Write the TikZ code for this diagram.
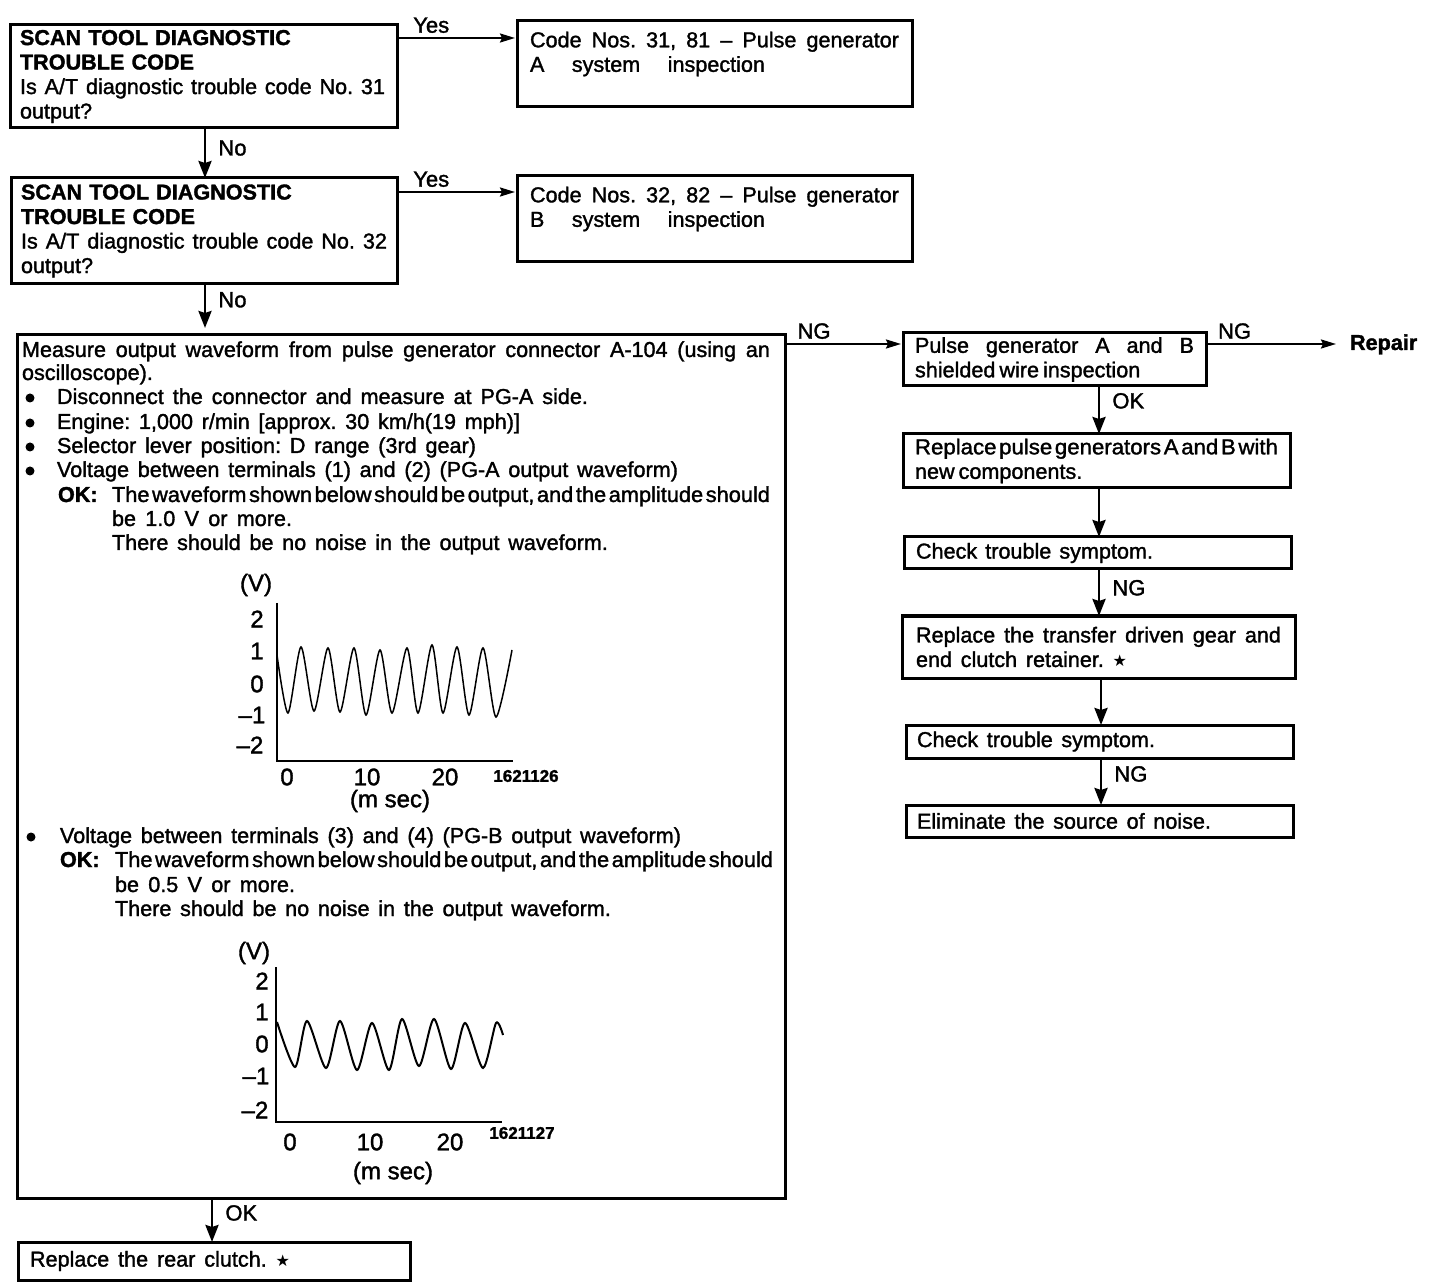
\documentclass[tikz,border=0pt]{standalone}
\usepackage{fontspec}
\usepackage{tikz}
\setmainfont{Liberation Sans}[FakeBold=1.5]
\newfontfamily\starfont{DejaVu Sans}
\usetikzlibrary{positioning, arrows.meta}

% line set to a given width: spaces stretch
\newcommand{\fitline}[2]{\makebox[#1][s]{\frenchspacing\spaceskip=0pt\xspaceskip=0pt #2}}
% line squeezed to a given width, almost no spaces
\newcommand{\squeezeline}[2]{\resizebox{#1}{\height}{\fontsize{10.8}{12.25}\selectfont\spaceskip=.12em\xspaceskip=.12em #2}}
\newcommand{\wstar}{{\starfont\footnotesize\char"2605}}

\tikzset{
    textsize/.style={font=\fontsize{10.8}{12.25}\selectfont},
    box/.style={draw, line width=1.5pt, anchor=north west, inner xsep=6pt, inner ysep=0pt, outer sep=0pt, align=left, textsize},
    txt/.style={anchor=base west, inner sep=0pt, outer sep=0pt, textsize},
    dot/.style={circle, fill, inner sep=0pt, outer sep=0pt, minimum size=4.5pt},
    tick/.style={anchor=center, inner sep=0pt, outer sep=0pt, font=\fontsize{12}{14}\selectfont},
    code/.style={anchor=center, inner sep=0pt, outer sep=0pt, font=\fontsize{8.5}{9}\bfseries\selectfont},
    edgelabel/.style={inner sep=6pt, font=\fontsize{11}{13}\selectfont},
    flowv/.style={line width=1.4pt, -{Stealth[length=8.5pt,width=6.5pt,inset=1pt]}},
    flowh/.style={line width=1.1pt, -{Stealth[length=7.5pt,width=4.5pt,inset=1pt]}},
    axis/.style={line width=1.1pt},
    wave/.style={line width=.75pt, smooth, tension=.45}
}

\begin{document}
\begin{tikzpicture}[x=.5pt, y=-.5pt]
    \useasboundingbox (0,0) rectangle (1440,1288);

    % left column
    \node[box, inner xsep=5pt, text width=183.5pt, minimum height=51.5pt] (q1) at (10,25) {\textbf{SCAN TOOL DIAGNOSTIC}\\\textbf{TROUBLE CODE}\\\fitline{182.5pt}{Is A/T diagnostic trouble code No. 31}\\output?};
    \node[box, inner xsep=5pt, text width=183pt, minimum height=53pt] (q2) at (11,178) {\textbf{SCAN TOOL DIAGNOSTIC}\\\textbf{TROUBLE CODE}\\\fitline{183pt}{Is A/T diagnostic trouble code No. 32}\\output?};
    \node[box, inner xsep=6.5pt, text width=184.5pt, minimum height=43pt] (c1) at (517,21) {\fitline{184.5pt}{Code Nos. 31, 81 -- Pulse generator}\\\fitline{117.5pt}{A system inspection}\\\mbox{}};
    \node[box, inner xsep=6.5pt, text width=184.5pt, minimum height=43pt] (c2) at (517,176) {\fitline{184.5pt}{Code Nos. 32, 82 -- Pulse generator}\\\fitline{117.5pt}{B system inspection}\\\mbox{}};
    \node[box, minimum width=384pt, minimum height=431.5pt] (m) at (17,335) {};
    \node[box, text width=184pt, minimum height=19pt] (rc) at (18,1242) {\fitline{130pt}{Replace the rear clutch. \wstar}};

    % right column
    \node[box, text width=139.5pt, minimum height=26.5pt] (p) at (903,333) {\fitline{139.5pt}{Pulse generator A and B}\\\fitline{112pt}{shielded wire inspection}};
    \node[box, text width=181.5pt, minimum height=27pt] (r) at (903,434) {\squeezeline{181.5pt}{Replace pulse generators A and B with}\\\fitline{80pt}{new components.}};
    \node[box, text width=181.5pt, minimum height=16pt] (s1) at (904,537) {\fitline{118.5pt}{Check trouble symptom.}};
    \node[box, inner xsep=7pt, text width=182.5pt, minimum height=31pt] (g) at (902,616) {\fitline{182.5pt}{Replace the transfer driven gear and}\\\fitline{105.5pt}{end clutch retainer. \wstar}};
    \node[box, inner xsep=5.5pt, text width=182.5pt, minimum height=16.5pt] (s2) at (906,725) {\fitline{119pt}{Check trouble symptom.}};
    \node[box, inner xsep=5.5pt, text width=182.5pt, minimum height=16pt] (e) at (906,805) {\fitline{147pt}{Eliminate the source of noise.}};
    \node[txt, font=\fontsize{10.8}{12.25}\bfseries\selectfont] (rep) at (1350,350) {Repair};

    % text of the large box
    \node[txt] (m1) at (22,357) {\fitline{374pt}{Measure output waveform from pulse generator connector A-104 (using an}};
    \node[txt] (m2) at (22,380) {oscilloscope).};
    \node[dot] (b1) at (30,398) {};
    \node[txt] (i1) at (57,404) {\fitline{265.5pt}{Disconnect the connector and measure at PG-A side.}};
    \node[dot] (b2) at (30,423) {};
    \node[txt] (i2) at (57,429) {\fitline{231.5pt}{Engine: 1,000 r/min [approx. 30 km/h(19 mph)]}};
    \node[dot] (b3) at (30,447) {};
    \node[txt] (i3) at (57,453) {\fitline{209.5pt}{Selector lever position: D range (3rd gear)}};
    \node[dot] (b4) at (30,471) {};
    \node[txt] (i4) at (57,477) {\fitline{310.5pt}{Voltage between terminals (1) and (2) (PG-A output waveform)}};
    \node[txt] (ok1) at (58,502) {\textbf{OK:}};
    \node[txt] (a1) at (112,502) {\squeezeline{329pt}{The waveform shown below should be output, and the amplitude should}};
    \node[txt] (a2) at (112,526) {\fitline{90pt}{be 1.0 V or more.}};
    \node[txt] (a3) at (112,550) {\fitline{248pt}{There should be no noise in the output waveform.}};

    \node[dot] (b5) at (31,837) {};
    \node[txt] (i5) at (60,843) {\fitline{310.5pt}{Voltage between terminals (3) and (4) (PG-B output waveform)}};
    \node[txt] (ok2) at (60,867) {\textbf{OK:}};
    \node[txt] (a4) at (115,867) {\squeezeline{329pt}{The waveform shown below should be output, and the amplitude should}};
    \node[txt] (a5) at (115,892) {\fitline{90pt}{be 0.5 V or more.}};
    \node[txt] (a6) at (115,916) {\fitline{248pt}{There should be no noise in the output waveform.}};

    % first waveform
    \node[tick] (va) at (256,585) {(V)};
    \node[tick] (va2) at (257,619) {2};
    \node[tick] (va1) at (257,651) {1};
    \node[tick] (va0) at (257,684) {0};
    \node[tick] (van1) at (252,715) {--1};
    \node[tick] (van2) at (250,745) {--2};
    \node[tick] (ta0) at (287,777) {0};
    \node[tick] (ta10) at (367,777) {10};
    \node[tick] (ta20) at (445,777) {20};
    \node[code] (ca) at (526,776) {1621126};
    \node[tick] (ua) at (390,801) {(m sec)};
    \coordinate (atop) at (277,603);
    \coordinate (aorg) at (277,761);
    \coordinate (aend) at (513,761);
    \draw[axis] (atop) -- (aorg) -- (aend);
    \draw[wave] plot coordinates {(277,655) (288,713) (301,647) (314,711) (328,648) (340,712) (354,648) (366,715) (380,650) (392,713) (407,648) (418,713) (432,645) (443,713) (457,647) (469,715) (483,648) (496,717) (512,650)};

    % second waveform
    \node[tick] (vb) at (254,953) {(V)};
    \node[tick] (vb2) at (262,981) {2};
    \node[tick] (vb1) at (262,1012) {1};
    \node[tick] (vb0) at (262,1044) {0};
    \node[tick] (vbn1) at (256,1076) {--1};
    \node[tick] (vbn2) at (255,1110) {--2};
    \node[tick] (tb0) at (290,1142) {0};
    \node[tick] (tb10) at (370,1142) {10};
    \node[tick] (tb20) at (450,1142) {20};
    \node[code] (cb) at (522,1133) {1621127};
    \node[tick] (ub) at (393,1173) {(m sec)};
    \coordinate (btop) at (276,967);
    \coordinate (borg) at (276,1122);
    \coordinate (bend) at (502,1122);
    \draw[axis] (btop) -- (borg) -- (bend);
    \draw[wave, line width=1pt] plot coordinates {(277,1022) (295,1067) (307,1021) (326,1068) (340,1021) (357,1070) (372,1023) (389,1070) (402,1019) (419,1066) (434,1019) (451,1069) (465,1023) (483,1068) (496,1023) (503,1035)};

    % connectors
    \draw[flowh] ([yshift=-6.5pt]q1.north east) -- node[pos=.29, above, edgelabel, inner sep=2pt] {Yes} ([xshift=-1pt, yshift=-8.5pt]c1.north west);
    \draw[flowh] ([yshift=-7pt]q2.north east) -- node[pos=.29, above, edgelabel, inner sep=2pt] {Yes} ([xshift=-1pt, yshift=-8pt]c2.north west);
    \draw[flowh] ([yshift=-4.5pt]m.north east) -- node[pos=.25, above, edgelabel, inner sep=2pt] {NG} ([xshift=-1pt, yshift=-5.5pt]p.north west);
    \draw[flowh] ([yshift=-5.5pt]p.north east) -- node[pos=.22, above, edgelabel, inner sep=2pt] {NG} ([xshift=-7pt, yshift=3pt]rep.base west);
    \draw[flowv] (205,0 |- q1.south) -- node[pos=.4, right, edgelabel] {No} (205,0 |- q2.north);
    \draw[flowv] (205,0 |- q2.south) -- node[pos=.36, right, edgelabel] {No} ([yshift=3.5pt]205,0 |- m.north);
    \draw[flowv] (212,0 |- m.south) -- node[pos=.34, right, edgelabel] {OK} (212,0 |- rc.north);
    \draw[flowv] (1099,0 |- p.south) -- node[pos=.31, right, edgelabel] {OK} (1099,0 |- r.north);
    \draw[flowv] (1099,0 |- r.south) -- (1099,0 |- s1.north);
    \draw[flowv] (1099,0 |- s1.south) -- node[pos=.4, right, edgelabel] {NG} (1099,0 |- g.north);
    \draw[flowv] (1101,0 |- g.south) -- (1101,0 |- s2.north);
    \draw[flowv] (1101,0 |- s2.south) -- node[pos=.34, right, edgelabel] {NG} (1101,0 |- e.north);
\end{tikzpicture}
\end{document}
